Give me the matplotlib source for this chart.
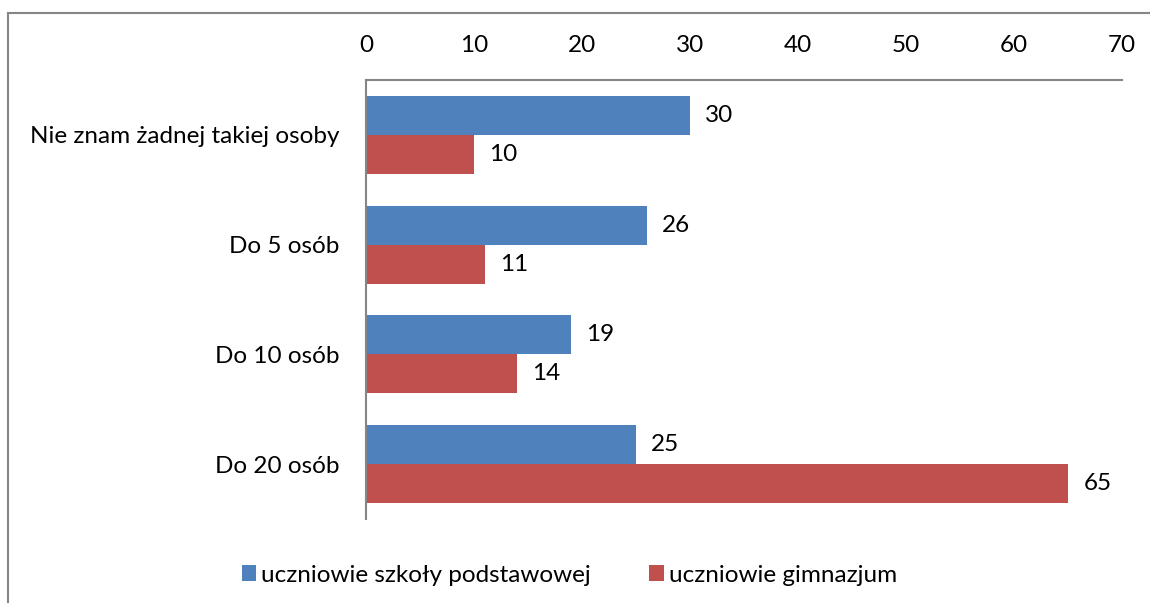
import numpy as np
import matplotlib.pyplot as plt
from matplotlib.lines import Line2D

plt.rcParams['font.family'] = ['Lato', 'DejaVu Sans']

# dane
kategorie = ['Nie znam żadnej takiej osoby', 'Do 5 osób', 'Do 10 osób', 'Do 20 osób']
podstawowa = [30, 26, 19, 25]
gimnazjum = [10, 11, 14, 65]
serie = ['uczniowie szkoły podstawowej', 'uczniowie gimnazjum']
kolory = ['#4F81BD', '#C0504D']

fs = 17.5

fig = plt.figure(figsize=(11.5, 6.03), dpi=100)
ax = fig.add_axes([0.3183, 0.1393, 0.6574, 0.728])

y = np.arange(len(kategorie))
h = 0.355
b1 = ax.barh(y - h / 2, podstawowa, height=h, color=kolory[0], label=serie[0])
b2 = ax.barh(y + h / 2, gimnazjum, height=h, color=kolory[1], label=serie[1])

for bars in (b1, b2):
    ax.bar_label(bars, padding=11, fontsize=fs)

ax.set_xlim(0, 70)
ax.set_ylim(3.5, -0.5)
ax.set_xticks(range(0, 71, 10))
ax.set_yticks(y)
ax.set_yticklabels(kategorie)
ax.xaxis.tick_top()
ax.tick_params(axis='x', length=0, pad=17, labelsize=fs)
ax.tick_params(axis='y', length=0, pad=19, labelsize=fs)

for s in ('right', 'bottom'):
    ax.spines[s].set_visible(False)
for s in ('top', 'left'):
    ax.spines[s].set_color('#868686')
    ax.spines[s].set_linewidth(1.5)

fig.legend(handles=[b1, b2], labels=serie, loc='center', bbox_to_anchor=(0.495, 0.046),
           ncol=2, frameon=False, fontsize=fs, handlelength=0.6, handleheight=0.6,
           handletextpad=0.2, columnspacing=2.4)

# ramka wykresu
fig.add_artist(Line2D([0.007, 1], [0.978, 0.978], color='#868686', lw=1.5))
fig.add_artist(Line2D([0.007, 0.007], [0, 0.978], color='#868686', lw=1.5))

plt.savefig('out.png', dpi=100)
